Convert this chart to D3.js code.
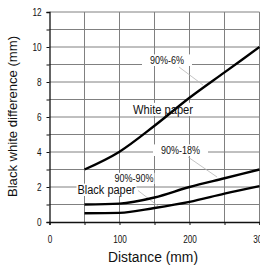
<!DOCTYPE html>
<html><head><meta charset="utf-8">
<script src="https://cdn.jsdelivr.net/npm/d3@7"></script>
<style>
html,body{margin:0;padding:0;background:#fff;overflow:hidden}
svg{display:block}
text{font-family:"Liberation Sans",Arial,sans-serif;fill:#111}
</style></head>
<body><svg id="c" width="260" height="269"></svg>
<script>
const distance = [50, 100, 150, 200, 250, 300];
const white6 = [3.0, 4.02, 5.5, 7.1, 8.55, 10.0];
const black18 = [1.0, 1.05, 1.4, 2.0, 2.5, 3.0];
const black90 = [0.5, 0.52, 0.8, 1.15, 1.62, 2.05];
const xTicks = [0, 50, 100, 150, 200, 250, 300];
const xLabels = [0, 100, 200, 300];
const yTicks = [0,1,2,3,4,5,6,7,8,9,10,11,12];
const yLabels = [0, 2, 4, 6, 8, 10, 12];

const svg = d3.select("#c");
const x = d3.scaleLinear().domain([0, 300]).range([49.5, 259.5]);
const y = d3.scaleLinear().domain([0, 12]).range([222, 12]);

function condense(sel, f) {
  sel.each(function() {
    const w = this.getComputedTextLength();
    if (w > 0) d3.select(this).attr("textLength", w * f).attr("lengthAdjust", "spacingAndGlyphs");
  });
}

// grid
const g = svg.append("g");
g.selectAll(".hg").data(yTicks.filter(d => d > 0)).enter().append("line")
  .attr("x1", x(0)).attr("x2", x(300)).attr("y1", d => y(d)).attr("y2", d => y(d))
  .attr("stroke", "#808080").attr("stroke-width", 1);
g.selectAll(".vg").data(xTicks.filter(d => d > 0)).enter().append("line")
  .attr("y1", y(0)).attr("y2", y(12)).attr("x1", d => x(d)).attr("x2", d => x(d))
  .attr("stroke", "#808080").attr("stroke-width", 1);

// axes
const xAxis = d3.axisBottom(x).tickValues(xTicks).tickSize(3)
  .tickFormat(d => xLabels.includes(d) ? d : "");
const gx = svg.append("g").attr("transform", `translate(0,${y(0)})`).call(xAxis);
gx.select(".domain").attr("stroke", "#111").attr("stroke-width", 1.3);
gx.selectAll(".tick line").attr("stroke", "#111");
gx.selectAll("text").attr("font-size", 10).attr("y", 21.3).attr("dy", 0).attr("fill", "#111")
  .call(condense, 0.82);

const yAxis = d3.axisLeft(y).tickValues(yTicks).tickSize(3).tickPadding(5)
  .tickFormat(d => yLabels.includes(d) ? d : "");
const gy = svg.append("g").attr("transform", `translate(${x(0)},0)`).call(yAxis);
gy.select(".domain").attr("stroke", "#111").attr("stroke-width", 1.3);
gy.selectAll(".tick line").attr("stroke", "#111");
gy.selectAll("text").attr("font-size", 10).attr("fill", "#111").call(condense, 0.82);

// axis titles
svg.append("text").attr("x", 153).attr("y", 262).attr("text-anchor", "middle")
  .attr("font-size", 14).attr("textLength", 90).attr("lengthAdjust", "spacingAndGlyphs")
  .text("Distance (mm)");
svg.append("text").attr("transform", "translate(17,116.5) rotate(-90)")
  .attr("text-anchor", "middle").attr("font-size", 13.5)
  .attr("textLength", 161).attr("lengthAdjust", "spacingAndGlyphs")
  .text("Black white difference (mm)");

// leader lines
const leaders = [[179, 67, 203, 85], [188, 157, 217, 177], [138, 190.5, 158, 206]];
svg.selectAll(".ld").data(leaders).enter().append("line")
  .attr("x1", d => d[0]).attr("y1", d => d[1]).attr("x2", d => d[2]).attr("y2", d => d[3])
  .attr("stroke", "#b5b5b5").attr("stroke-width", 0.8);

// labels with white boxes: [text, centre x, baseline, size, width, pad]
const labels = [
  ["90%-6%", 167, 64, 11, 34, 8],
  ["90%-18%", 180.5, 154, 11, 39, 8],
  ["White paper", 163, 114, 13, 60, 1],
  ["90%-90%", 134, 182, 10.5, 39, 1],
  ["Black paper", 106.5, 194, 12, 58, 1]
];
const boxes = svg.append("g");
const curves = svg.append("g");
const texts = svg.append("g");
labels.forEach(([txt, cx, base, size, w, pad]) => {
  const t = texts.append("text").attr("x", cx).attr("y", base).attr("text-anchor", "middle")
    .attr("font-size", size).attr("textLength", w).attr("lengthAdjust", "spacingAndGlyphs").text(txt);
  const h = size * 0.78;
  boxes.append("rect").attr("x", cx - w / 2 - pad).attr("y", base - h - 1)
    .attr("width", w + 2 * pad).attr("height", h + 3).attr("fill", "#fff");
});

// curves
const line = d3.line().x((d, i) => x(distance[i])).y(d => y(d)).curve(d3.curveMonotoneX);
[white6, black18, black90].forEach(s => {
  curves.append("path").attr("d", line(s)).attr("fill", "none")
    .attr("stroke", "#000").attr("stroke-width", 2.4);
});
</script></body></html>
